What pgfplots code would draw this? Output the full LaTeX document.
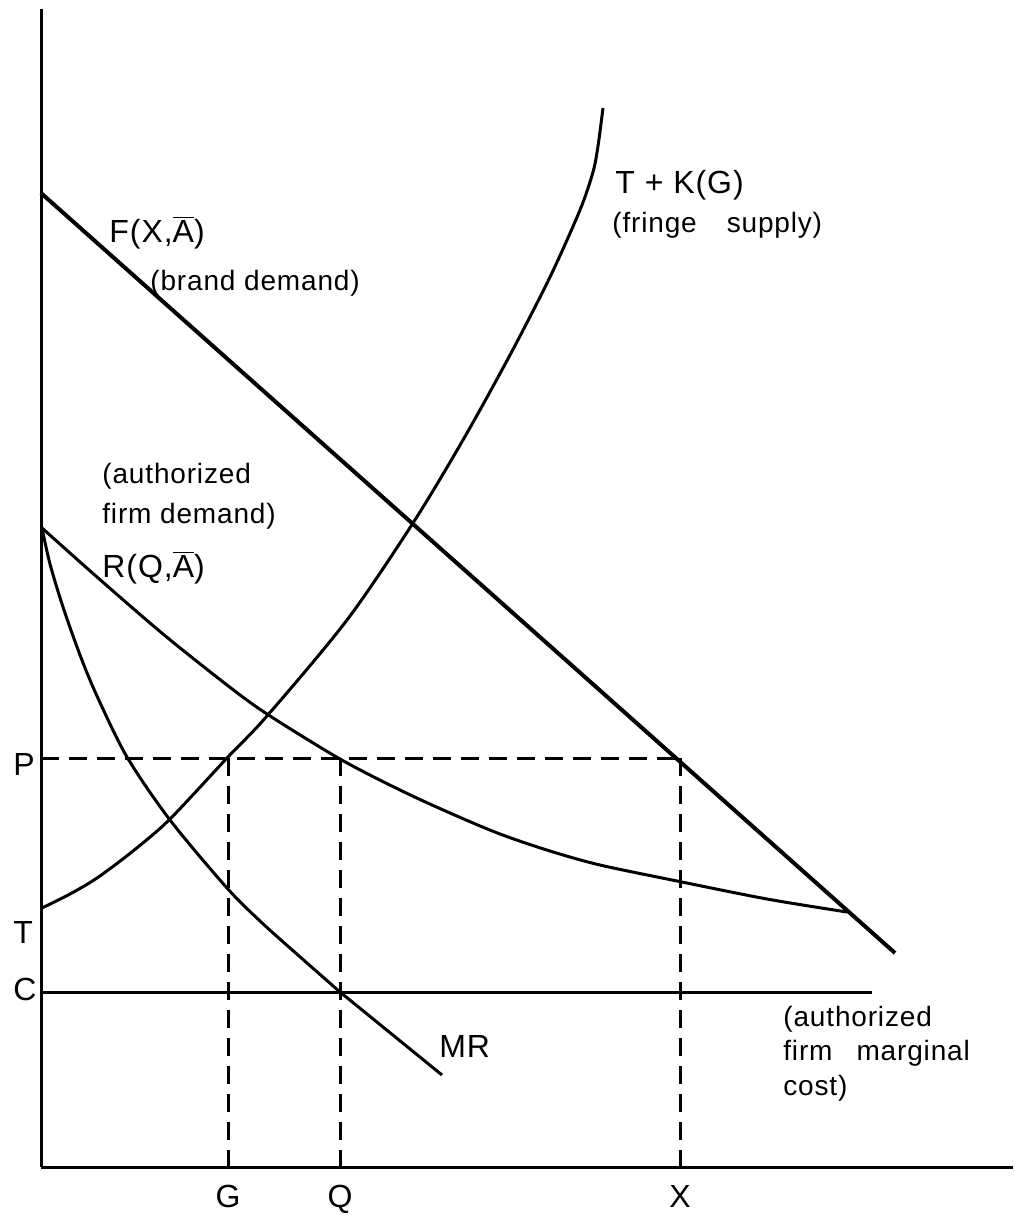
\documentclass[border=0pt]{standalone}
\usepackage{fontspec}
\setmainfont{Liberation Sans}[LetterSpace=3]
\usepackage{pgfplots}
\pgfplotsset{compat=1.18}

\newcommand{\Abar}{$\overline{\hbox{A}}$}

\begin{document}
\begin{tikzpicture}[
    big/.style={font=\fontsize{16}{19}\selectfont, anchor=base west, inner sep=0pt},
    small/.style={font=\fontsize{14}{17}\selectfont, anchor=base west, inner sep=0pt},
]
\begin{axis}[
    scale only axis,
    width=506.5pt, height=608.5pt,
    xmin=0, xmax=1013, ymin=0, ymax=1217,
    y dir=reverse,
    hide axis,
    clip=false,
    cycle list={{black}},
    every axis plot/.append style={line width=1.5pt, no marks},
]
% invisible frame to fix the bounding box
\path (rel axis cs:0,0) rectangle (rel axis cs:1,1);

% axes
\addplot coordinates {(41,9) (41,1167)};
\addplot coordinates {(41,1167) (1013,1167)};

% brand demand F(X,A)
\addplot[line width=2pt] coordinates {(41,193) (895,953)};

% authorized firm marginal cost C
\addplot coordinates {(41,992) (872,992)};

% authorized firm demand R(Q,A)
\addplot[smooth] coordinates {
    (42,528) (97,577) (163,634) (227,685) (267,714) (340,759)
    (400,790) (450,813) (500,834) (550,851) (600,865) (677,881)
    (767,899) (847,912)
};

% marginal revenue MR
\addplot[smooth] coordinates {
    (42,528) (50,564) (63,607) (80,655) (97,696) (127,757)
    (170,820) (227,888) (260,921) (290,948) (340,992)
};
\addplot coordinates {(340,992) (442,1075)};

% fringe supply T + K(G)
\addplot[smooth] coordinates {
    (42,908) (70,894) (97,878) (133,851) (170,819) (227,758)
    (267,716) (347,620) (413,523) (463,440) (510,355) (550,277)
    (580,210) (593,172) (598,146) (603,108)
};

% dashed guides
\addplot[dash pattern=on 9pt off 5pt] coordinates {(41,758) (680,758)};
\addplot[dash pattern=on 9pt off 5pt] coordinates {(228,758) (228,1167)};
\addplot[dash pattern=on 9pt off 5pt] coordinates {(340,758) (340,1167)};
\addplot[dash pattern=on 9pt off 5pt] coordinates {(680,758) (680,1167)};

% labels
\node[big] at (axis cs:109,242) {F(X,\Abar)};
\node[small] at (axis cs:150,290) {(brand demand)};
\node[big] at (axis cs:615,193) {T + K(G)};
\node[small] at (axis cs:612,232) {(fringe\hspace{15pt}supply)};
\node[small] at (axis cs:102,483) {(authorized};
\node[small] at (axis cs:102,523) {firm demand)};
\node[big] at (axis cs:102,577) {R(Q,\Abar)};
\node[small] at (axis cs:783,1026) {(authorized};
\node[small] at (axis cs:783,1060) {firm\hspace{12pt}marginal};
\node[small] at (axis cs:783,1095) {cost)};
\node[big] at (axis cs:439,1057) {MR};
\node[big] at (axis cs:13,775) {P};
\node[big] at (axis cs:13,943) {T};
\node[big] at (axis cs:13,1000) {C};
\node[big, anchor=base] at (axis cs:228,1207) {G};
\node[big, anchor=base] at (axis cs:340,1207) {Q};
\node[big, anchor=base] at (axis cs:680,1207) {X};
\end{axis}
\end{tikzpicture}
\end{document}
